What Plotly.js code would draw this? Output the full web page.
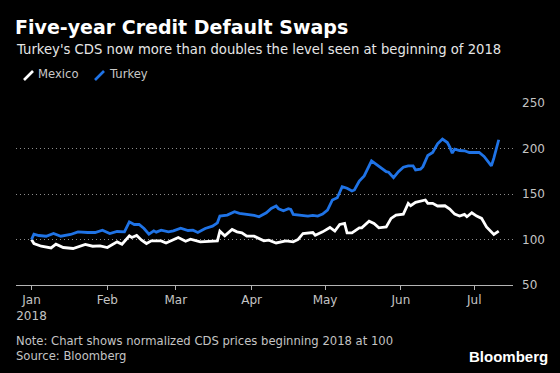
<!DOCTYPE html>
<html>
<head>
<meta charset="utf-8">
<script src="https://cdn.plot.ly/plotly-3.0.1.min.js"></script>
<style>html,body{margin:0;padding:0;background:#000;}#chart{width:560px;height:373px;}</style>
</head>
<body>
<div id="chart"></div>
<script>
// ---- data (normalized CDS, start of 2018 = 100) ----
var turkeyDates = ['2018-01-01','2018-01-02','2018-01-04','2018-01-07','2018-01-10','2018-01-13','2018-01-17','2018-01-20','2018-01-24','2018-01-27','2018-01-30',
  '2018-02-02','2018-02-05','2018-02-08','2018-02-10','2018-02-12','2018-02-14','2018-02-16','2018-02-18','2018-02-20','2018-02-21','2018-02-23','2018-02-26','2018-02-28',
  '2018-03-03','2018-03-06','2018-03-08','2018-03-10','2018-03-13','2018-03-16','2018-03-18','2018-03-19','2018-03-22','2018-03-25','2018-03-27','2018-03-30',
  '2018-04-02','2018-04-04','2018-04-07','2018-04-09','2018-04-11','2018-04-12','2018-04-14','2018-04-16','2018-04-17','2018-04-18','2018-04-21','2018-04-24','2018-04-26','2018-04-28','2018-04-30',
  '2018-05-02','2018-05-04','2018-05-06','2018-05-08','2018-05-10','2018-05-12','2018-05-13','2018-05-15','2018-05-17','2018-05-20','2018-05-21','2018-05-23','2018-05-26','2018-05-27','2018-05-29','2018-05-31',
  '2018-06-02','2018-06-04','2018-06-06','2018-06-07','2018-06-09','2018-06-10','2018-06-12','2018-06-14','2018-06-16','2018-06-18','2018-06-20','2018-06-21','2018-06-22','2018-06-23','2018-06-25','2018-06-27','2018-06-29',
  '2018-07-03','2018-07-05','2018-07-08','2018-07-09','2018-07-11'];
var turkeyValues = [100,105.8,104.4,103.6,106.6,103.6,105.5,108.4,107.7,107.7,110.3,
  106.6,108.8,108.4,119.4,116.5,116.5,112.1,105.8,109.5,108.1,110.3,108.4,109.5,
  112.5,109.9,110.3,107.7,112.1,114.7,118.3,125.7,126.8,130.5,128.7,127.9,
  126.5,125,129.4,134.2,136.8,133.8,131.6,133.8,133.1,127.6,126.8,125.7,126.5,125.7,127.9,
  132.3,143.4,145.9,158.1,156.3,153.3,154.4,164.3,169.9,186.4,184.5,180.1,174.6,173.9,168,174.6,
  179.5,180.9,180.9,176.5,177.3,180.1,192.3,195.6,205.2,210.4,206.6,201.5,194.9,199.3,197.8,197.5,195.6,
  195.6,191.2,180.9,189.4,209.6];

var mexicoDates = ['2018-01-01','2018-01-02','2018-01-05','2018-01-09','2018-01-11','2018-01-14','2018-01-18','2018-01-21','2018-01-23','2018-01-26','2018-01-29',
  '2018-02-01','2018-02-05','2018-02-07','2018-02-10','2018-02-11','2018-02-13','2018-02-15','2018-02-17','2018-02-19','2018-02-23','2018-02-25',
  '2018-03-02','2018-03-05','2018-03-07','2018-03-11','2018-03-14','2018-03-18','2018-03-19','2018-03-21','2018-03-24','2018-03-26','2018-03-28','2018-03-30',
  '2018-04-02','2018-04-06','2018-04-08','2018-04-11','2018-04-15','2018-04-18','2018-04-20','2018-04-22','2018-04-26','2018-04-27','2018-04-30',
  '2018-05-03','2018-05-05','2018-05-07','2018-05-09','2018-05-10','2018-05-12','2018-05-15','2018-05-16','2018-05-19','2018-05-21','2018-05-23','2018-05-26','2018-05-28','2018-05-30',
  '2018-06-02','2018-06-04','2018-06-05','2018-06-07','2018-06-11','2018-06-12','2018-06-14','2018-06-16','2018-06-19','2018-06-21','2018-06-23','2018-06-25','2018-06-27','2018-06-28','2018-06-30',
  '2018-07-02','2018-07-04','2018-07-06','2018-07-08','2018-07-09','2018-07-11'];
var mexicoValues = [100,95.6,92.6,90.7,94.8,91.2,90.1,92.9,94.5,92.6,92.9,
  91.2,97.4,94.8,104,102.2,104.4,99.2,95.6,98.5,98.5,96.2,
  102.2,98.1,100.3,97.4,98.1,98.5,109.2,104,111,108.4,107.3,103.6,
  103.6,98.5,99.2,96.2,98.5,97.4,100,106.6,107.7,104.7,108.4,
  113.2,109.2,116.5,117.7,107.3,107.3,112.8,112.8,120.2,117.7,112.8,113.9,123.2,126.8,
  127.9,139.7,137.1,140.8,143.4,139.7,139.7,136.8,137.1,133.4,127.9,125.7,127.6,125,129.4,
  125.7,123.2,113.9,108.4,105.5,109.2];

var monthTicks = ['2018-01-01','2018-02-01','2018-03-01','2018-04-01','2018-05-01','2018-06-01','2018-07-01'];
var monthLabels = ['Jan<br>2018','Feb','Mar','Apr','May','Jun','Jul'];
var yTicks = [50,100,150,200,250];

var seriesNames = ['Mexico','Turkey'];
var seriesColors = ['#ffffff','#1f73e6'];

var traces = [
  {type:'scatter', mode:'lines', name:seriesNames[0], x:mexicoDates, y:mexicoValues,
   line:{color:seriesColors[0], width:2.8}, hoverinfo:'x+y'},
  {type:'scatter', mode:'lines', name:seriesNames[1], x:turkeyDates, y:turkeyValues,
   line:{color:seriesColors[1], width:2.8}, hoverinfo:'x+y'}
];

var W = 560, H = 373, L = 16, R = 47, T = 103, B = 88;
var pw = W - L - R, ph = H - T - B;
function px(xp){ return (xp - L) / pw; }
function py(yp){ return (H - B - yp) / ph; }

var FONT = 'DejaVu Sans, sans-serif';

var layout = {
  width: W, height: H,
  paper_bgcolor: '#000', plot_bgcolor: '#000',
  margin: {l:L, r:R, t:T, b:B, pad:0},
  showlegend: false,
  font: {family: FONT, color:'#c4c4c4', size:12},
  title: {text:'<b>Five-year Credit Default Swaps</b>', x: 15/W, xanchor:'left', xref:'container',
          y: 1 - 27/H, yanchor:'middle', yref:'container',
          font:{family:'DejaVu Sans, sans-serif', size:19, color:'#ffffff'}},
  xaxis: {
    type:'date', range:['2017-12-25 16:00','2018-07-16 20:00'],
    tickmode:'array', tickvals: monthTicks, ticktext: monthLabels,
    ticks:'outside', ticklen:4, tickcolor:'#b4b4b4', tickwidth:1,
    showline:true, linecolor:'#b4b4b4', linewidth:1,
    showgrid:false, zeroline:false,
    tickfont:{family:FONT, size:12, color:'#c4c4c4'}
  },
  yaxis: {
    side:'right', range:[50,250], tickmode:'array', tickvals:yTicks,
    showgrid:true, gridcolor:'#8c8c8c', griddash:'1px,3px', gridwidth:1,
    zeroline:false, showline:false, ticks:'', ticklabelstandoff:8,
    tickfont:{family:FONT, size:12, color:'#c4c4c4'}
  },
  shapes: [
    {type:'line', xref:'paper', yref:'paper', x0:px(24), y0:py(80), x1:px(33), y1:py(71),
     line:{color:seriesColors[0], width:2.6}},
    {type:'line', xref:'paper', yref:'paper', x0:px(95), y0:py(80), x1:px(104), y1:py(71),
     line:{color:seriesColors[1], width:2.6}}
  ],
  annotations: [
    {text:"Turkey's CDS now more than doubles the level seen at beginning of 2018", xref:'paper', yref:'paper',
     x:px(14), y:py(49.5), xanchor:'left', yanchor:'middle', showarrow:false,
     font:{family:FONT, size:13.2, color:'#e6e6e6'}},
    {text:seriesNames[0], xref:'paper', yref:'paper', x:px(36), y:py(74.5), xanchor:'left', yanchor:'middle', showarrow:false,
     font:{family:FONT, size:11.6, color:'#c8c8c8'}},
    {text:seriesNames[1], xref:'paper', yref:'paper', x:px(106.5), y:py(74.5), xanchor:'left', yanchor:'middle', showarrow:false,
     font:{family:FONT, size:11.6, color:'#c8c8c8'}},
    {text:'Note: Chart shows normalized CDS prices beginning 2018 at 100', xref:'paper', yref:'paper',
     x:px(14), y:py(341), xanchor:'left', yanchor:'middle', showarrow:false,
     font:{family:FONT, size:11.6, color:'#c4c4c4'}},
    {text:'Source: Bloomberg', xref:'paper', yref:'paper',
     x:px(14), y:py(355.5), xanchor:'left', yanchor:'middle', showarrow:false,
     font:{family:FONT, size:11.6, color:'#c4c4c4'}},
    {text:'<b>Bloomberg</b>', xref:'paper', yref:'paper',
     x:px(550), y:py(356), xanchor:'right', yanchor:'middle', showarrow:false,
     font:{family:'Liberation Sans, Arial, sans-serif', size:15, color:'#ffffff'}}
  ]
};

Plotly.newPlot('chart', traces, layout, {displayModeBar:false, staticPlot:true});
</script>
</body>
</html>
